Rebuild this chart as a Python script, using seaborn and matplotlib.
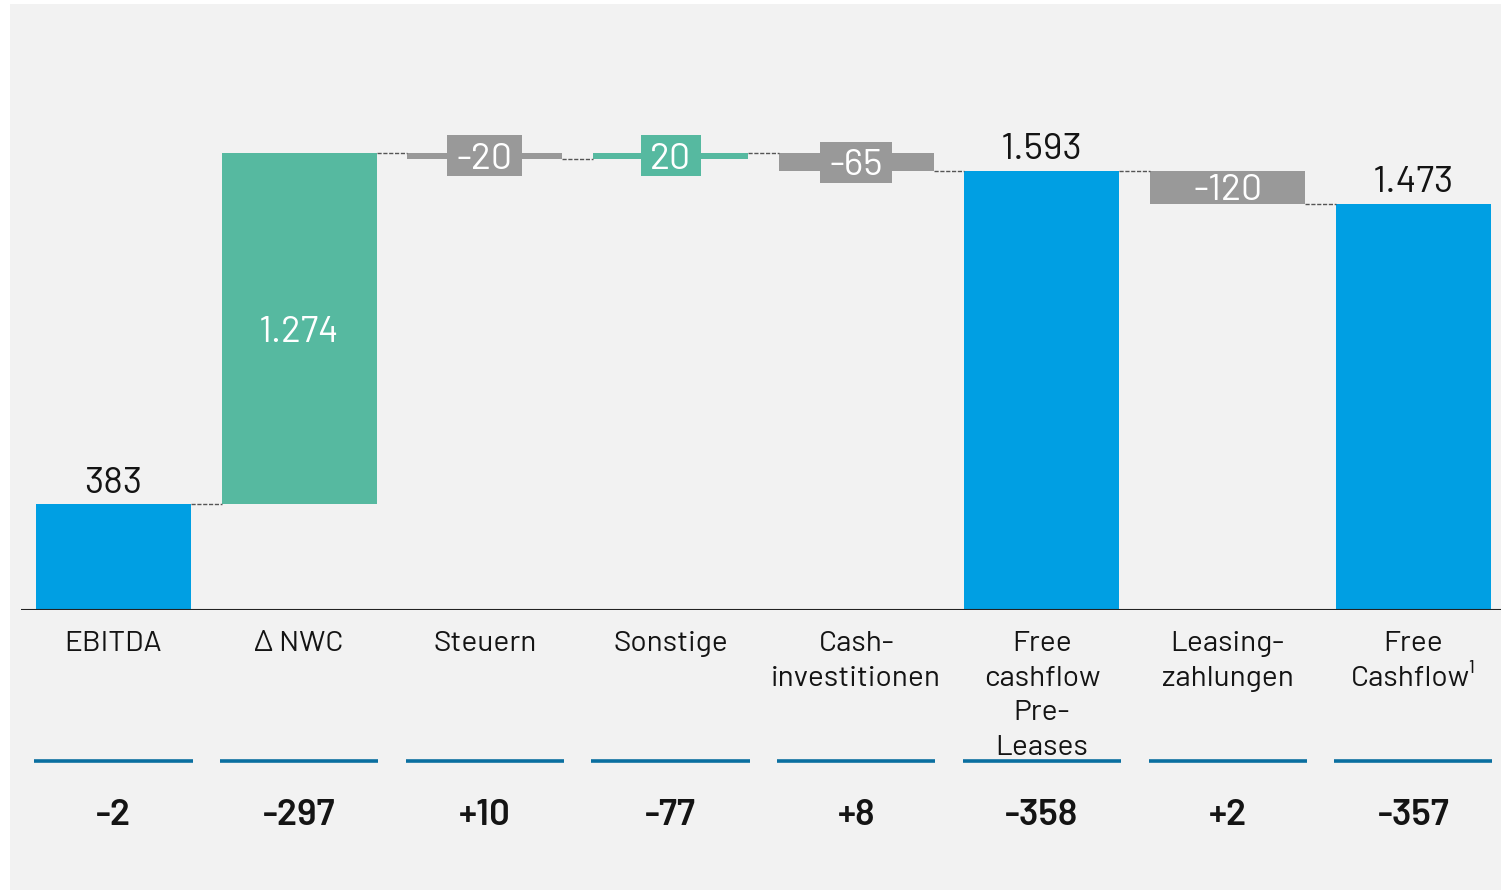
import matplotlib
matplotlib.use("Agg")
import matplotlib.pyplot as plt
import matplotlib.patches as mpatches
from matplotlib.transforms import blended_transform_factory
import seaborn as sns
import pandas as pd

# ---- data ----
categories = ["EBITDA", "Δ NWC", "Steuern", "Sonstige", "Cash-\ninvestitionen",
              "Free\ncashflow\nPre-\nLeases", "Leasing-\nzahlungen", "Free\nCashflow¹"]
values = [383, 1274, -20, 20, -65, 1593, -120, 1473]
kinds = ["total", "delta", "delta", "delta", "delta", "total", "delta", "total"]
value_labels = ["383", "1.274", "-20", "20", "-65", "1.593", "-120", "1.473"]
changes = ["-2", "-297", "+10", "-77", "+8", "-358", "+2", "-357"]

# ---- styles ----
BLUE = "#009fe3"
TEAL = "#56b9a0"
GREY = "#999999"
BG = "#f2f2f2"
LINE_BLUE = "#0a6fa0"
TXT = "#141414"

sns.set_theme(style="white")
plt.rcParams["font.family"] = ["Barlow", "DejaVu Sans"]

# waterfall geometry
bottoms, heights, colors, levels = [], [], [], []
run = 0
for v, k in zip(values, kinds):
    if k == "total":
        bottoms.append(0); heights.append(v); colors.append(BLUE)
        run = v
    else:
        bottoms.append(min(run, run + v)); heights.append(abs(v))
        colors.append(TEAL if v > 0 else GREY)
        run = run + v
    levels.append(run)

df = pd.DataFrame({"cat": categories, "height": heights})

W, H = 1501, 893
fig = plt.figure(figsize=(W / 100, H / 100), dpi=100)
fig.patch.set_facecolor("white")
fig.patches.append(mpatches.Rectangle((10 / W, 3 / H), 1491 / W, 886 / H,
                                      transform=fig.transFigure, facecolor=BG,
                                      edgecolor="none", zorder=-10))

YMAX = 2198
ax = fig.add_axes([21 / W, (H - 610) / H, 1480 / W, 606 / H])
ax.set_facecolor("none")
px_y = YMAX / 606.0        # data units per pixel (y)
px_x = 7.970 / 1480.0      # data units per pixel (x)

bw = 0.835
sns.barplot(data=df, x="cat", y="height", bottom=bottoms, width=bw,
            errorbar=None, ax=ax, color=BLUE, edgecolor="none", linewidth=0)
for p, c in zip(ax.patches, colors):
    p.set_facecolor(c)

ax.set_xlim(-0.498, 7.472)
ax.set_ylim(0, YMAX)
for s in ax.spines.values():
    s.set_visible(False)
ax.set_xticks([]); ax.set_yticks([])
ax.set_xlabel(""); ax.set_ylabel("")
ax.axhline(0, color="#222222", lw=1.5, zorder=5)

# connectors
for i in range(len(values) - 1):
    ax.plot([i + bw / 2, i + 1 - bw / 2], [levels[i], levels[i]],
            color="#555555", lw=1.0, dashes=(3, 1.2), zorder=4)

# value labels
boxed = []
for i, (b, h, k, lab, c) in enumerate(zip(bottoms, heights, kinds, value_labels, colors)):
    if k == "total":
        ax.annotate(lab, (i, b + h), xytext=(0, 8.3), textcoords="offset points",
                    ha="center", va="baseline", fontsize=27, color=TXT)
    else:
        mid = b + h / 2
        fs = 27 if lab != "1.274" else 26.5
        cap = fs * 100 / 72 * 0.70
        t = ax.text(i, mid - cap / 2 * px_y, lab, ha="center", va="baseline",
                    fontsize=fs, color="white", zorder=7)
        if h / px_y < 28:
            boxed.append((t, i, mid, c))

fig.canvas.draw()
renderer = fig.canvas.get_renderer()
for t, i, mid, c in boxed:
    wpx = t.get_window_extent(renderer).width + 19
    hpx = 41
    ax.add_patch(mpatches.Rectangle((i - wpx / 2 * px_x, mid - hpx / 2 * px_y),
                                    wpx * px_x, hpx * px_y, facecolor=c,
                                    edgecolor="none", zorder=6))

# category labels, lines, change numbers
tr = blended_transform_factory(ax.transData, fig.transFigure)
for i, (cat, ch) in enumerate(zip(categories, changes)):
    for k, line in enumerate(cat.split("\n")):
        ax.text(i, (H - 651 - 34.7 * k) / H, line, transform=tr, ha="center",
                va="baseline", fontsize=21.5, color=TXT, clip_on=False)
    ax.plot([i - 0.426, i + 0.426], [(H - 761) / H] * 2, transform=tr,
            color=LINE_BLUE, lw=2.6, solid_capstyle="butt", clip_on=False)
    ax.text(i, (H - 825) / H, ch, transform=tr, ha="center", va="baseline",
            fontsize=26.5, fontweight="semibold", color=TXT, clip_on=False)

fig.savefig("out.png", dpi=100, facecolor=fig.get_facecolor())
